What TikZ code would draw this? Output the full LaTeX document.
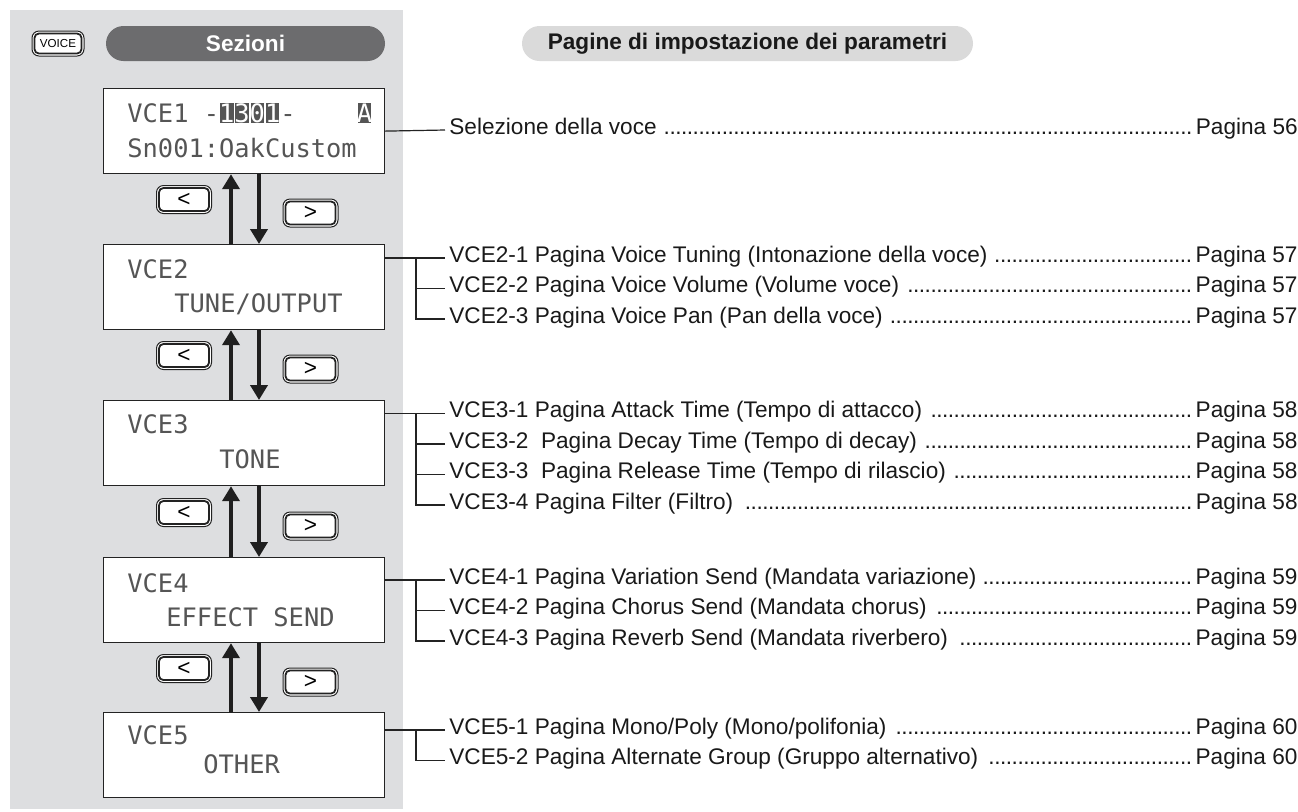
\documentclass[tikz,border=0pt]{standalone}
\usepackage{fontspec}
\setmainfont{Liberation Sans}
\newfontfamily\lcdfont{DejaVu Sans Mono}
\usetikzlibrary{arrows.meta}
\definecolor{panel}{RGB}{221,222,224}
\definecolor{pilldark}{RGB}{108,108,110}
\definecolor{pilllight}{RGB}{218,218,218}
\definecolor{lcdc}{RGB}{85,85,85}
\definecolor{linec}{RGB}{35,35,35}
\newcommand\lcdinv[1]{\makebox[0pt][l]{\hspace{0.45pt}\textcolor{lcdc}{\rule[-0.6pt]{6.75pt}{9.9pt}}}\textcolor{white}{#1}}
\newcommand\itemtext[2]{\hbox to 424pt{\rule[-4pt]{0pt}{12pt}#1\ \leaders\hbox to 2.9pt{\hss.\hss}\hfill\,Pagina #2}}
\begin{document}
\begin{tikzpicture}[x=0.5pt, y=-0.5pt, font=\fontsize{11.3pt}{13pt}\selectfont,
  lcdbox/.style={draw=linec, line width=0.6pt, fill=white, minimum width=140.5pt, minimum height=42.5pt, inner sep=0pt, anchor=north west},
  lcdtxt/.style={anchor=base west, inner sep=0pt, text=lcdc, font=\lcdfont\fontsize{12.7pt}{14pt}\selectfont},
  btn/.style={draw=linec, line width=0.5pt, fill=white, rounded corners=3.5pt, minimum width=27.5pt, minimum height=14pt, inner sep=0pt},
  tree/.style={draw=linec, line width=0.6pt},
  nav/.style={draw=black!88, line width=2pt, -{Triangle[length=7.5pt,width=8.5pt]}},
  itm/.style={anchor=west, inner sep=0pt, text=black!90},
  pill/.style={rounded corners=8.75pt, minimum height=17.5pt, inner sep=0pt, font=\fontsize{11.3pt}{13pt}\selectfont\bfseries}
]
\useasboundingbox (0,0) rectangle (1298,811);
\fill[panel] (10,10) rectangle (403,809);

% headers
\node[btn, minimum width=26pt, minimum height=12.5pt, font=\fontsize{5.8pt}{6pt}\selectfont] (voice) at (58,43.5) {VOICE};
\node[pill, fill=pilldark, text=white, minimum width=139.5pt] (sez) at (245.5,43.5) {Sezioni};
\node[pill, fill=pilllight, text=black!90, minimum width=225.5pt] (pag) at (747.5,43.5) {Pagine di impostazione dei parametri};

% LCD boxes
\node[lcdbox] (b1) at (103,88) {};
\node[lcdbox] (b2) at (103,244) {};
\node[lcdbox] (b3) at (103,400) {};
\node[lcdbox] (b4) at (103,557) {};
\node[lcdbox] (b5) at (103,712) {};

\node[lcdtxt] (t1a) at (127,122) {VCE1 -\lcdinv{1}\lcdinv{3}\lcdinv{0}\lcdinv{1}-~~~~\lcdinv{A}};
\node[lcdtxt] (t1b) at (127,157) {Sn001:OakCustom};
\node[lcdtxt] (t2a) at (127,278) {VCE2};
\node[lcdtxt] (t2b) at (174,312) {TUNE/OUTPUT};
\node[lcdtxt] (t3a) at (127,433) {VCE3};
\node[lcdtxt] (t3b) at (219,468) {TONE};
\node[lcdtxt] (t4a) at (127,592) {VCE4};
\node[lcdtxt] (t4b) at (166,626) {EFFECT SEND};
\node[lcdtxt] (t5a) at (127,744) {VCE5};
\node[lcdtxt] (t5b) at (203,773) {OTHER};

% navigation buttons
\node[btn] (l1) at (184,199.5) {<};
\node[btn] (r1) at (310.5,213) {>};
\node[btn] (l2) at (184,355.5) {<};
\node[btn] (r2) at (310.5,369) {>};
\node[btn] (l3) at (184,512.5) {<};
\node[btn] (r3) at (310.5,526) {>};
\node[btn] (l4) at (184,668.5) {<};
\node[btn] (r4) at (310.5,682) {>};
\foreach \n in {voice,l1,r1,l2,r2,l3,r3,l4,r4}
  \draw[linec, line width=0.9pt, rounded corners=2.2pt] ([shift={(1.5pt,-1.5pt)}]\n.north west) rectangle ([shift={(-1.5pt,1.5pt)}]\n.south east);

% navigation arrows
\foreach \a/\b in {b1/b2,b2/b3,b3/b4,b4/b5}{
  \draw[nav] ([xshift=64pt]\b.north west) -- ([xshift=64pt]\a.south west);
  \draw[nav] ([xshift=78pt]\a.south west) -- ([xshift=78pt]\b.north west);
}

% parameter pages
\node[itm] (i1) at (449,130) {\itemtext{Selezione della voce}{56}};
\node[itm] (i21) at (449,258) {\itemtext{VCE2-1 Pagina Voice Tuning (Intonazione della voce)}{57}};
\node[itm] (i22) at (449,288.5) {\itemtext{VCE2-2 Pagina Voice Volume (Volume voce)}{57}};
\node[itm] (i23) at (449,319) {\itemtext{VCE2-3 Pagina Voice Pan (Pan della voce)}{57}};
\node[itm] (i31) at (449,413.5) {\itemtext{VCE3-1 Pagina Attack Time (Tempo di attacco)}{58}};
\node[itm] (i32) at (449,444) {\itemtext{VCE3-2\ \ Pagina Decay Time (Tempo di decay)}{58}};
\node[itm] (i33) at (449,474.5) {\itemtext{VCE3-3\ \ Pagina Release Time (Tempo di rilascio)}{58}};
\node[itm] (i34) at (449,505) {\itemtext{VCE3-4 Pagina Filter (Filtro)}{58}};
\node[itm] (i41) at (449,580) {\itemtext{VCE4-1 Pagina Variation Send (Mandata variazione)}{59}};
\node[itm] (i42) at (449,610.5) {\itemtext{VCE4-2 Pagina Chorus Send (Mandata chorus)}{59}};
\node[itm] (i43) at (449,641) {\itemtext{VCE4-3 Pagina Reverb Send (Mandata riverbero)}{59}};
\node[itm] (i51) at (449,730) {\itemtext{VCE5-1 Pagina Mono/Poly (Mono/polifonia)}{60}};
\node[itm] (i52) at (449,760.5) {\itemtext{VCE5-2 Pagina Alternate Group (Gruppo alternativo)}{60}};

% tree connectors
\coordinate (j) at (416,0);
\draw[tree] (b1.east) -- ([xshift=-2pt]i1.west);
\foreach \bx/\f/\l/\mids in {b2/i21/i23/{i22}, b3/i31/i34/{i32,i33}, b4/i41/i43/{i42}, b5/i51/i52/{}}{
  \draw[tree] (\bx.east |- \f.west) -- ([xshift=-2pt]\f.west);
  \draw[tree] (j |- \f.west) |- ([xshift=-2pt]\l.west);
  \foreach \m in \mids { \draw[tree] (j |- \m.west) -- ([xshift=-2pt]\m.west); }
}
\end{tikzpicture}
\end{document}
